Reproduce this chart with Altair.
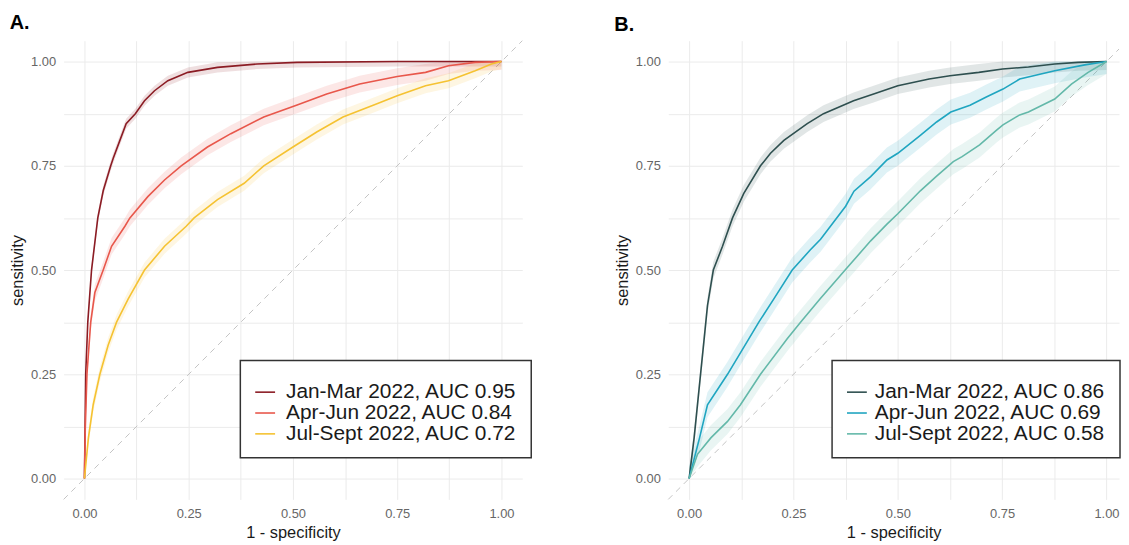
import altair as alt
import pandas as pd

FONT = "Liberation Sans"
GRID_VALUES = [0, 0.125, 0.25, 0.375, 0.5, 0.625, 0.75, 0.875, 1.0]
DOMAIN_A = [-0.05, 1.05]
DOMAIN_B = [-0.05, 1.03]
DOMAIN_Y = [-0.05, 1.05]

# ---------------- Panel A ----------------
a_labels = ["Jan-Mar 2022, AUC 0.95", "Apr-Jun 2022, AUC 0.84", "Jul-Sept 2022, AUC 0.72"]
a_colors = ["#8B1C24", "#E8574B", "#F5C231"]
a_ci_halfwidth = [0.012, 0.02, 0.018]

a_jan_fpr = [0, 0.003, 0.008, 0.017, 0.032, 0.045, 0.063, 0.069, 0.085, 0.10, 0.122, 0.144,
             0.168, 0.20, 0.248, 0.319, 0.414, 0.51, 0.75, 1.0]
a_jan_tpr = [0, 0.25, 0.375, 0.5, 0.625, 0.69, 0.75, 0.768, 0.811, 0.851, 0.875, 0.906,
             0.930, 0.954, 0.974, 0.986, 0.994, 0.998, 1.0, 1.0]

a_apr_fpr = [0, 0.002, 0.006, 0.015, 0.025, 0.045, 0.065, 0.097, 0.109, 0.152, 0.192, 0.232,
             0.295, 0.351, 0.43, 0.51, 0.581, 0.66, 0.75, 0.818, 0.873, 0.937, 1.0]
a_apr_tpr = [0, 0.12, 0.25, 0.375, 0.446, 0.5, 0.557, 0.605, 0.625, 0.676, 0.716, 0.75,
             0.795, 0.827, 0.867, 0.896, 0.922, 0.946, 0.964, 0.974, 0.99, 0.998, 1.0]

a_jul_fpr = [0, 0.0095, 0.021, 0.037, 0.057, 0.077, 0.105, 0.144, 0.192, 0.244, 0.263, 0.319,
             0.383, 0.43, 0.50, 0.557, 0.62, 0.70, 0.75, 0.818, 0.873, 0.937, 0.976, 1.0]
a_jul_tpr = [0, 0.0975, 0.177, 0.25, 0.32, 0.375, 0.431, 0.5, 0.557, 0.605, 0.625, 0.669,
             0.708, 0.75, 0.795, 0.831, 0.867, 0.898, 0.918, 0.942, 0.954, 0.978, 0.994, 1.0]

# ---------------- Panel B ----------------
b_labels = ["Jan-Mar 2022, AUC 0.86", "Apr-Jun 2022, AUC 0.69", "Jul-Sept 2022, AUC 0.58"]
b_colors = ["#2E4F4F", "#1FA5C0", "#63B8A9"]
b_ci_halfwidth = [0.02, 0.03, 0.03]

b_jan_fpr = [0, 0.012, 0.028, 0.036, 0.044, 0.058, 0.08, 0.104, 0.131, 0.171, 0.195, 0.227,
             0.283, 0.322, 0.394, 0.442, 0.5, 0.575, 0.625, 0.694, 0.751, 0.813, 0.876, 0.932, 1.0]
b_jan_tpr = [0, 0.0975, 0.256, 0.335, 0.415, 0.5, 0.557, 0.625, 0.684, 0.75, 0.78, 0.811,
             0.851, 0.875, 0.906, 0.922, 0.942, 0.958, 0.966, 0.974, 0.982, 0.987, 0.994, 0.998, 1.0]

b_apr_fpr = [0, 0.025, 0.044, 0.092, 0.143, 0.167, 0.203, 0.247, 0.29, 0.315, 0.375, 0.395,
             0.435, 0.474, 0.5, 0.554, 0.593, 0.627, 0.673, 0.712, 0.752, 0.792, 0.876, 0.948, 1.0]
b_apr_tpr = [0, 0.0975, 0.177, 0.25, 0.335, 0.375, 0.431, 0.5, 0.548, 0.574, 0.653, 0.689,
             0.724, 0.764, 0.78, 0.823, 0.855, 0.879, 0.895, 0.915, 0.934, 0.958, 0.978, 0.992, 1.0]

b_jul_fpr = [0, 0.02, 0.052, 0.092, 0.123, 0.171, 0.235, 0.267, 0.314, 0.379, 0.435, 0.474,
             0.5, 0.554, 0.593, 0.633, 0.654, 0.696, 0.736, 0.752, 0.792, 0.813, 0.876, 0.916,
             0.956, 1.0]
b_jul_tpr = [0, 0.058, 0.0975, 0.137, 0.177, 0.25, 0.335, 0.375, 0.431, 0.506, 0.57, 0.61,
             0.635, 0.69, 0.725, 0.76, 0.772, 0.80, 0.835, 0.848, 0.872, 0.879, 0.91, 0.946,
             0.974, 1.0]


def build_df(labels, fprs, tprs, hws):
    rows = []
    for lab, f, t, hw in zip(labels, fprs, tprs, hws):
        for x, y in zip(f, t):
            rows.append(dict(series=lab, fpr=x, tpr=y,
                             lo=max(0.0, y - hw), hi=min(1.0, y + hw)))
    return pd.DataFrame(rows)


LABEL_EXPR = "datum.value * 4 == round(datum.value * 4) ? format(datum.value, '.2f') : ''"


def panel(title, labels, colors, fprs, tprs, hws, xdomain, width, legend_x, label_offset):
    df = build_df(labels, fprs, tprs, hws)
    xs = alt.Scale(domain=xdomain, nice=False, zero=False)
    ys = alt.Scale(domain=DOMAIN_Y, nice=False, zero=False)
    xax = alt.Axis(values=GRID_VALUES, labelExpr=LABEL_EXPR, title="1 - specificity")
    yax = alt.Axis(values=GRID_VALUES, labelExpr=LABEL_EXPR, title="sensitivity")
    cscale = alt.Scale(domain=labels, range=colors)
    leg = alt.Legend(orient="none", legendX=legend_x, legendY=322, title=" ",
                     symbolType="stroke", symbolOpacity=1, labelOffset=label_offset,
                     padding=14)

    # identity (chance) reference line across the panel
    ddf = pd.DataFrame({"d": [xdomain[0], min(xdomain[1], DOMAIN_Y[1])]})
    diag_layer = alt.Chart(ddf).mark_line(
        color="#C4C4C4", strokeDash=[6, 5], strokeWidth=1
    ).encode(
        x=alt.X("d:Q", scale=xs, axis=xax),
        y=alt.Y("d:Q", scale=ys, axis=yax),
    )

    band = alt.Chart(df).mark_area(opacity=0.14).encode(
        x=alt.X("fpr:Q", scale=xs, axis=xax),
        y=alt.Y("lo:Q", scale=ys, axis=yax),
        y2="hi:Q",
        color=alt.Color("series:N", scale=cscale, legend=leg),
    )

    line = alt.Chart(df).mark_line(strokeWidth=1.6).encode(
        x=alt.X("fpr:Q", scale=xs, axis=xax),
        y=alt.Y("tpr:Q", scale=ys, axis=yax),
        color=alt.Color("series:N", scale=cscale, legend=leg),
    )

    return alt.layer(diag_layer, band, line).properties(
        width=width, height=462,
        title=alt.TitleParams(title, anchor="start"),
    )


pa = panel("A.", a_labels, a_colors, [a_jan_fpr, a_apr_fpr, a_jul_fpr],
           [a_jan_tpr, a_apr_tpr, a_jul_tpr], a_ci_halfwidth, DOMAIN_A, 462, 178, 10)
pb = panel("B.", b_labels, b_colors, [b_jan_fpr, b_apr_fpr, b_jul_fpr],
           [b_jan_tpr, b_apr_tpr, b_jul_tpr], b_ci_halfwidth, DOMAIN_B, 454, 165, 7)

chart = alt.hconcat(pa, pb, spacing=82).resolve_scale(color="independent").configure(
    padding={"left": 1, "top": 3, "right": 0, "bottom": 0},
    font=FONT,
).configure_view(stroke=None).configure_axis(
    gridColor="#EBEBEB", gridWidth=1, domain=False, ticks=False,
    labelColor="#666666", labelFontSize=13, labelPadding=8, labelFont=FONT,
    titleFontSize=16.5, titleColor="#1A1A1A", titleFontWeight="normal", titleFont=FONT,
).configure_axisY(titlePadding=5).configure_axisX(titlePadding=4).configure_legend(
    strokeColor="#333333", strokeWidth=1.5, fillColor="white",
    labelFontSize=21, labelColor="#1A1A1A", labelLimit=600, labelFont=FONT,
    symbolType="stroke", symbolSize=400, symbolStrokeWidth=1.6,
    rowPadding=0, titleFontSize=6, titlePadding=1,
).configure_title(
    fontSize=20, fontWeight="bold", color="black", offset=6, font=FONT,
)

chart.save("out.html", embed_options={"renderer": "svg", "actions": False})
